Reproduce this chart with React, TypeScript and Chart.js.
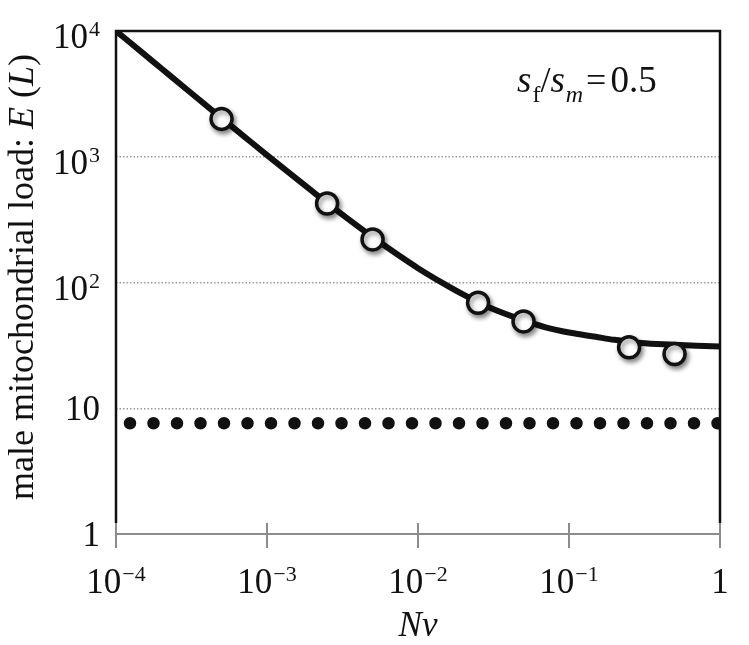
import React, { useEffect, useRef } from 'react';
import { Chart, registerables } from 'chart.js';

Chart.register(...registerables);

// ---- data ----
const xTicks = [1e-4, 1e-3, 1e-2, 1e-1, 1];
const xTickLabels: [string, string][] = [['10', '−4'], ['10', '−3'], ['10', '−2'], ['10', '−1'], ['1', '']];
const yTicks = [1, 10, 100, 1000, 10000];
const yTickLabels: [string, string][] = [['1', ''], ['10', ''], ['10', '2'], ['10', '3'], ['10', '4']];
const gridLevels = [10, 100, 1000];

// analytical curve (solid line)
const curveX = [1e-4, 1.5e-4, 2e-4, 3e-4, 5e-4, 7e-4, 1e-3, 1.5e-3, 2e-3, 3e-3, 5e-3, 7e-3, 1e-2, 1.5e-2, 2e-2, 3e-2, 5e-2, 7e-2, 0.1, 0.15, 0.2, 0.3, 0.5, 0.7, 1];
const curveY = [10000, 6700, 5030, 3360, 2030, 1460, 1030, 697, 530, 363, 230, 173, 130, 97, 80, 63, 50, 44, 40, 37, 35, 33, 32, 31.4, 31];

// simulation results (open circles)
const simX = [5e-4, 2.5e-3, 5e-3, 2.5e-2, 5e-2, 0.25, 0.5];
const simY = [2000, 425, 220, 69, 49, 30.5, 27];

// horizontal dotted reference level
const refX = [1e-4, 1];
const refY = [7.6, 7.6];

const SERIF = '"Liberation Serif", "Times New Roman", Times, serif';
const fnt = (size: number, italic = false) => `${italic ? 'italic ' : ''}${size}px ${SERIF}`;

type Seg = { t: string; font: string; dy?: number; dx?: number };

function drawSegs(ctx: CanvasRenderingContext2D, segs: Seg[], x: number, y: number, align: 'left' | 'center' | 'right') {
  let w = 0;
  for (const s of segs) {
    ctx.font = s.font;
    w += ctx.measureText(s.t).width + (s.dx || 0);
  }
  let cx = align === 'left' ? x : align === 'center' ? x - w / 2 : x - w;
  ctx.textAlign = 'left';
  ctx.textBaseline = 'alphabetic';
  for (const s of segs) {
    ctx.font = s.font;
    cx += s.dx || 0;
    ctx.fillText(s.t, cx, y + (s.dy || 0));
    cx += ctx.measureText(s.t).width;
  }
}

const decorPlugin = {
  id: 'decor',
  beforeDatasetDraw(chart: any, args: any) {
    if (args.index === 0) {
      const ctx = chart.ctx;
      ctx.save();
      ctx.shadowColor = 'rgba(0,0,0,0.45)';
      ctx.shadowBlur = 5;
      ctx.shadowOffsetX = 2;
      ctx.shadowOffsetY = 3;
    }
  },
  afterDatasetDraw(chart: any, args: any) {
    if (args.index === 0) chart.ctx.restore();
  },
  afterDraw(chart: any) {
    const ctx: CanvasRenderingContext2D = chart.ctx;
    const { left, right, top, bottom } = chart.chartArea;
    const xs = chart.scales.x;
    const ys = chart.scales.y;
    ctx.save();
    // frame
    ctx.lineCap = 'butt';
    ctx.strokeStyle = '#111';
    ctx.lineWidth = 2.5;
    ctx.beginPath();
    ctx.moveTo(left, bottom - 11);
    ctx.lineTo(left, top);
    ctx.lineTo(right, top);
    ctx.lineTo(right, bottom - 11);
    ctx.stroke();
    // bottom axis + ticks
    ctx.strokeStyle = '#8c8c8c';
    ctx.lineWidth = 2;
    ctx.beginPath();
    ctx.moveTo(left, bottom);
    ctx.lineTo(right, bottom);
    ctx.stroke();
    xs.ticks.forEach((t: any) => {
      const px = Math.round(xs.getPixelForValue(t.value));
      ctx.beginPath();
      ctx.moveTo(px, bottom - 11);
      ctx.lineTo(px, bottom + 14);
      ctx.stroke();
    });
    ctx.fillStyle = '#111';
    // x tick labels
    xTicks.forEach((v, i) => {
      const px = xs.getPixelForValue(v);
      const [base, sup] = xTickLabels[i];
      const segs: Seg[] = [{ t: base, font: fnt(35) }];
      if (sup) segs.push({ t: sup, font: fnt(22), dy: -12, dx: 1 });
      drawSegs(ctx, segs, px, bottom + 59, 'center');
    });
    // y tick labels
    yTicks.forEach((v, i) => {
      const py = ys.getPixelForValue(v);
      const [base, sup] = yTickLabels[i];
      const segs: Seg[] = [{ t: base, font: fnt(35) }];
      if (sup) segs.push({ t: sup, font: fnt(22), dy: -12, dx: 1 });
      drawSegs(ctx, segs, left - 16, py + (sup ? 17 : 12), 'right');
    });
    // x title
    drawSegs(ctx, [{ t: 'Nν', font: fnt(35, true) }], (left + right) / 2, 636, 'center');
    // y title
    ctx.save();
    ctx.translate(33, 277);
    ctx.rotate(-Math.PI / 2);
    drawSegs(
      ctx,
      [
        { t: 'male mitochondrial load: ', font: fnt(36) },
        { t: 'E', font: fnt(36, true) },
        { t: ' (', font: fnt(36) },
        { t: 'L', font: fnt(36, true) },
        { t: ')', font: fnt(36) },
      ],
      0,
      0,
      'center'
    );
    ctx.restore();
    // annotation
    drawSegs(
      ctx,
      [
        { t: 's', font: fnt(37, true) },
        { t: 'f', font: fnt(24), dy: 10, dx: 1 },
        { t: '/', font: fnt(36) },
        { t: 's', font: fnt(37, true) },
        { t: 'm', font: fnt(24, true), dy: 10, dx: 1 },
        { t: '=', font: fnt(36), dx: 3 },
        { t: '0.5', font: fnt(37), dx: 4 },
      ],
      517,
      92,
      'left'
    );
    ctx.restore();
  },
};

export default function App() {
  const ref = useRef<HTMLCanvasElement | null>(null);
  useEffect(() => {
    if (!ref.current) return;
    const chart = new Chart(ref.current, {
      type: 'scatter',
      data: {
        datasets: [
          {
            type: 'scatter',
            data: simX.map((x, i) => ({ x, y: simY[i] })),
            showLine: false,
            pointRadius: 10.5,
            pointBorderWidth: 3.5,
            pointBackgroundColor: '#ffffff',
            pointBorderColor: '#111',
          },
          {
            type: 'line',
            data: curveX.map((x, i) => ({ x, y: curveY[i] })),
            borderColor: '#111',
            borderWidth: 6,
            pointRadius: 0,
            fill: false,
            cubicInterpolationMode: 'monotone',
          },
          {
            type: 'line',
            data: refX.map((x, i) => ({ x, y: refY[i] })),
            borderColor: '#111',
            borderWidth: 12.5,
            borderCapStyle: 'round',
            borderDash: [0, 23.5],
            borderDashOffset: 9.5,
            pointRadius: 0,
            fill: false,
          },
        ] as any,
      },
      options: {
        animation: false,
        responsive: false,
        maintainAspectRatio: false,
        layout: { padding: { left: 116, right: 29, top: 31, bottom: 111 } },
        plugins: { legend: { display: false }, tooltip: { enabled: false } },
        scales: {
          x: {
            type: 'logarithmic',
            min: 1e-4,
            max: 1,
            afterBuildTicks: (s: any) => {
              s.ticks = xTicks.map((value) => ({ value }));
            },
            ticks: { display: false },
            grid: { display: false, drawTicks: false },
            border: { display: false },
          },
          y: {
            type: 'logarithmic',
            min: 1,
            max: 10000,
            afterBuildTicks: (s: any) => {
              s.ticks = yTicks.map((value) => ({ value }));
            },
            ticks: { display: false },
            grid: {
              drawTicks: false,
              lineWidth: 1.5,
              color: (c: any) => (c.tick && gridLevels.includes(c.tick.value) ? '#9a9a9a' : 'rgba(0,0,0,0)'),
            },
            border: { display: false, dash: [1.5, 2] },
          },
        },
      } as any,
      plugins: [decorPlugin],
    });
    return () => chart.destroy();
  }, []);
  return (
    <div style={{ position: 'fixed', left: 0, top: 0, width: 749, height: 645, background: '#fff' }}>
      <canvas ref={ref} width={749} height={645} style={{ width: 749, height: 645, display: 'block' }} />
    </div>
  );
}
